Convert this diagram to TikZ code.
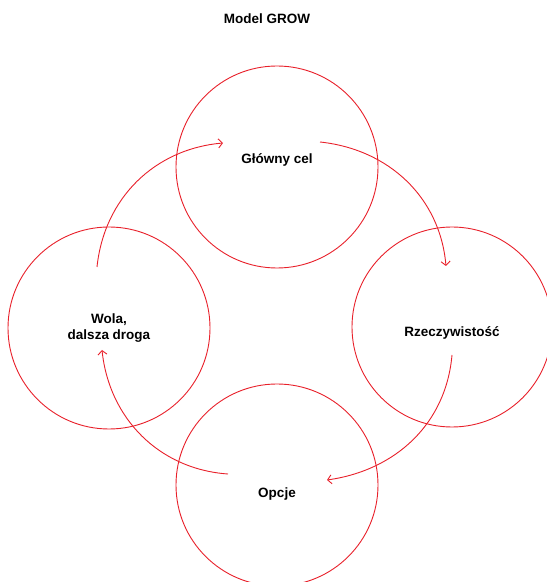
\documentclass[tikz,border=0pt]{standalone}
\usepackage{fontspec}
\setmainfont{Liberation Sans}
\usetikzlibrary{arrows.meta}
\definecolor{gred}{HTML}{E8202A}
\begin{document}
\begin{tikzpicture}[x=1pt,y=1pt,
  ring/.style={draw=gred,line width=0.9pt},
  flow/.style={draw=gred,line width=0.9pt,-{Straight Barb[length=4pt,width=9pt]}},
  lbl/.style={font=\fontsize{13.5}{16.5}\selectfont\bfseries,align=center,text=black}]
\useasboundingbox (0,0) rectangle (547,582);
\node[ring,circle,minimum size=202pt,inner sep=0pt] (top) at (277,415) {};
\node[ring,circle,minimum size=200pt,inner sep=0pt] (right) at (452,255) {};
\node[ring,circle,minimum size=202pt,inner sep=0pt] (left) at (109,254) {};
\node[ring,circle,minimum size=202pt,inner sep=0pt] (bottom) at (277,97) {};
\node[lbl] (title) at (267,563) {Model GROW};
\node[lbl] (tl) at (277,422) {Główny cel};
\node[lbl] (rl) at (452,249) {Rzeczywistość};
\node[lbl] (ll) at (109,254) {Wola,\\dalsza droga};
\node[lbl] (bl) at (277,88) {Opcje};
\coordinate (a1s) at (97,315);
\coordinate (a1e) at (223,439);
\coordinate (a2s) at (320,440);
\coordinate (a2e) at (446,316);
\coordinate (a3s) at (452,227);
\coordinate (a3e) at (327,102);
\coordinate (a4s) at (228,108);
\coordinate (a4e) at (102,232);
\draw[flow] (a1s) to[out=84,in=185] (a1e);
\draw[flow] (a2s) to[out=-6,in=95] (a2e);
\draw[flow] (a3s) to[out=-95,in=8] (a3e);
\draw[flow] (a4s) to[out=176,in=-84] (a4e);
\end{tikzpicture}
\end{document}
